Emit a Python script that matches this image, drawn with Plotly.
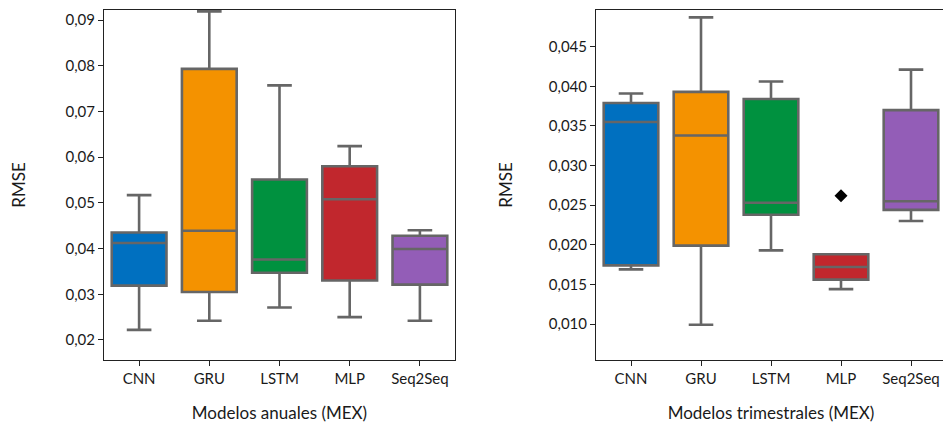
import plotly.graph_objects as go
from plotly.subplots import make_subplots

models = ["CNN", "GRU", "LSTM", "MLP", "Seq2Seq"]
colors = ["#0070C0", "#F49200", "#00913F", "#C1272D", "#935DB7"]

# Annual models (left)
anual_lower = [0.0222, 0.0242, 0.0271, 0.0250, 0.0242]
anual_q1 = [0.0319, 0.0305, 0.0347, 0.0330, 0.0321]
anual_median = [0.0412, 0.0439, 0.0376, 0.0508, 0.0399]
anual_q3 = [0.0435, 0.0793, 0.0551, 0.0580, 0.0428]
anual_upper = [0.0517, 0.0919, 0.0757, 0.0624, 0.0440]

# Quarterly models (right)
trim_lower = [0.0169, 0.0099, 0.0193, 0.0144, 0.0230]
trim_q1 = [0.0174, 0.0199, 0.0238, 0.0156, 0.0244]
trim_median = [0.0355, 0.0338, 0.0253, 0.0172, 0.0255]
trim_q3 = [0.0379, 0.0393, 0.0384, 0.0188, 0.0370]
trim_upper = [0.0391, 0.0487, 0.0406, 0.0188, 0.0421]
trim_outlier_model = ["MLP"]
trim_outlier_value = [0.0262]

fig = make_subplots(rows=1, cols=2)

line_gray = "#666666"
for col, (lo, q1, med, q3, up) in enumerate(
    [(anual_lower, anual_q1, anual_median, anual_q3, anual_upper),
     (trim_lower, trim_q1, trim_median, trim_q3, trim_upper)], start=1):
    for i, m in enumerate(models):
        fig.add_trace(go.Box(
            x=[m], q1=[q1[i]], median=[med[i]], q3=[q3[i]],
            lowerfence=[lo[i]], upperfence=[up[i]],
            fillcolor=colors[i], line=dict(color=line_gray, width=2.6),
            width=0.78, whiskerwidth=0.45, boxpoints=False,
            showlegend=False, name=m, opacity=1,
        ), row=1, col=col)

fig.add_trace(go.Scatter(
    x=trim_outlier_model, y=trim_outlier_value, mode="markers",
    marker=dict(symbol="diamond", color="black", size=10),
    showlegend=False), row=1, col=2)

W, H = 943, 415
font = dict(family="Lato, Open Sans, sans-serif", size=14, color="#1a1a1a")
tickfont = dict(family="Lato, Open Sans, sans-serif", size=15, color="#1a1a1a")
fig.update_layout(
    width=W, height=H, autosize=False,
    margin=dict(l=0, r=0, t=2, b=63),
    paper_bgcolor="white", plot_bgcolor="white",
    boxmode="overlay", separators=",.", font=font,
    xaxis=dict(domain=[96/W, 447/W]),
    xaxis2=dict(domain=[588/W, 938/W]),
)
axis_common = dict(showline=True, linecolor="#222222", linewidth=1, mirror=True,
                   ticks="outside", ticklen=5, tickcolor="#222222", showgrid=False,
                   zeroline=False, tickfont=tickfont)
fig.update_xaxes(**axis_common, categoryorder="array", categoryarray=models,
                 range=[-0.5, 4.5], title_standoff=23)
fig.update_xaxes(title_text="Modelos anuales (MEX)", row=1, col=1)
fig.update_xaxes(title_text="Modelos trimestrales (MEX)", row=1, col=2)
fig.update_yaxes(**axis_common, title_text="RMSE")
fig.update_yaxes(range=[0.01562, 0.09219], tickvals=[0.02, 0.03, 0.04, 0.05, 0.06, 0.07, 0.08, 0.09],
                 tickformat=".2f", title_standoff=45, row=1, col=1)
fig.update_yaxes(range=[0.00546, 0.04963], tickvals=[0.010, 0.015, 0.020, 0.025, 0.030, 0.035, 0.040, 0.045],
                 tickformat=".3f", title_standoff=31, row=1, col=2)

fig.write_html("out.html")
